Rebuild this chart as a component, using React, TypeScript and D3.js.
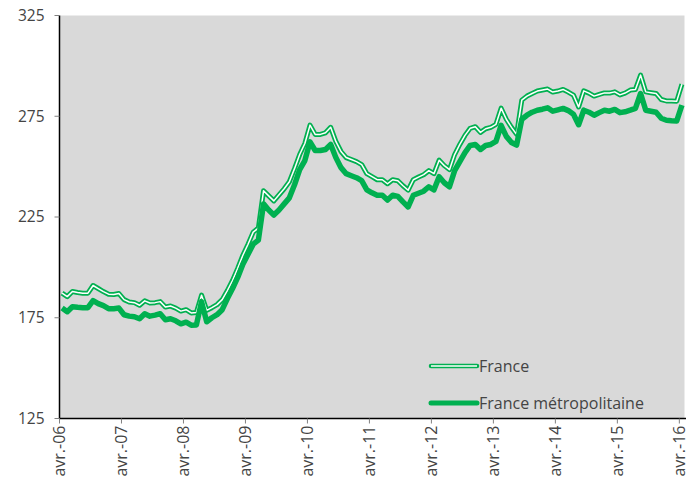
import React, { useEffect, useRef } from "react";
import * as d3 from "d3";

// libellés de l'axe des x (un tous les 12 mois)
const yearLabels = [
  "avr.-06", "avr.-07", "avr.-08", "avr.-09", "avr.-10", "avr.-11",
  "avr.-12", "avr.-13", "avr.-14", "avr.-15", "avr.-16",
];
const yTicks = [125, 175, 225, 275, 325];
const seriesNames = ["France", "France métropolitaine"];

// valeurs mensuelles, avril 2006 -> avril 2016
const france = [
  187.2, 185.5, 188, 187.5, 187.2, 187.2, 191, 189.5, 188, 186.7, 186.5, 187,
  184, 182.8, 182.5, 181.2, 183.4, 182.3, 182.5, 183, 180.3, 180.8, 179.8, 178.3,
  179, 177.4, 177.6, 186.2, 178.7, 180, 181.5, 184, 188.5, 193.5, 199.5, 206,
  211.5, 217.5, 219.5, 238, 235.5, 233, 236, 239, 242.5, 249, 256, 261.5,
  270.6, 266, 266, 266.8, 269.5, 262.5, 257.5, 254.5, 253.5, 252.5, 251, 246.5,
  245, 243.5, 243.5, 241.5, 243.5, 243, 240.5, 238.3, 243.5, 244.8, 246, 248,
  246.5, 253.2, 250.5, 248.5, 256, 261, 265.5, 269, 269.8, 267, 268.8, 269.5,
  271, 279, 273.5, 269.5, 266, 283, 285, 286.3, 287.5, 288, 288.5, 287,
  287.5, 288.3, 287, 285.5, 279.6, 287.6, 286.5, 285, 285.8, 286.6, 286.5, 287.1,
  285.6, 286.5, 288, 288.3, 295.4, 287.1, 286.7, 286.3, 283.3, 282.6, 282.6, 282.5,
  290.9,
];
const franceMetro = [
  179.8, 178, 180.5, 180.2, 180, 180, 183.5, 182, 181, 179.5, 179.5, 179.8,
  176.5, 175.8, 175.5, 174.5, 177, 175.8, 176.3, 177, 174, 174.5, 173.5, 172,
  172.8, 171.3, 171.4, 183, 173, 175, 176.5, 179, 184.5, 189.5, 195, 201.5,
  206.5, 211.5, 213.5, 231.5, 228.5, 226, 228.5, 231.5, 234.5, 241, 248.5, 253,
  262.3, 258, 258, 258.5, 261, 254.5, 249.5, 246.5, 245.5, 244.5, 243, 238.5,
  237, 235.8, 235.8, 233.4, 235.8, 235.2, 232.5, 230, 235.8, 236.8, 237.8, 240,
  238.5, 245, 242, 240, 248, 252.5, 257, 260.5, 261, 258.5, 260.5, 261,
  262.5, 270.5, 265, 262, 260.7, 273.5, 275.5, 277, 278, 278.5, 279.2, 277.5,
  278.2, 278.9, 277.8, 276, 270.8, 278, 277, 275.5, 276.8, 278, 277.5, 278.4,
  276.8, 277.2, 278, 278.9, 286.3, 278, 277.5, 277, 274, 273, 272.8, 272.7,
  280.5,
];

const App = () => {
  const svgRef = useRef<SVGSVGElement>(null);
  const width = 688;
  const height = 478;
  // bords de la zone de tracé
  const left = 59.5;
  const right = 684.5;
  const top = 15.5;
  const bottom = 418.5;
  const green = "#00b050";
  const textColor = "#444444";
  const font = "'Open Sans', 'Noto Sans', sans-serif";

  const drawChart = () => {
    const svg = d3.select(svgRef.current);
    svg.selectAll("*").remove();

    const x = d3.scaleLinear().domain([0, franceMetro.length]).range([left, right]);
    const y = d3.scaleLinear().domain([125, 325]).range([bottom, top]);

    // fond gris
    svg
      .append("rect")
      .attr("x", left)
      .attr("y", top)
      .attr("width", right - left)
      .attr("height", bottom - top)
      .attr("fill", "#d9d9d9");

    const line = d3
      .line<number>()
      .x((d, i) => x(i + 0.5))
      .y((d) => y(d));

    // France : trait double (vert + filet blanc)
    svg
      .append("path")
      .attr("d", line(france))
      .attr("fill", "none")
      .attr("stroke", green)
      .attr("stroke-width", 5)
      .attr("stroke-linejoin", "round");
    svg
      .append("path")
      .attr("d", line(france))
      .attr("fill", "none")
      .attr("stroke", "#ffffff")
      .attr("stroke-width", 1.5)
      .attr("stroke-linejoin", "round");

    // France métropolitaine : trait épais
    svg
      .append("path")
      .attr("d", line(franceMetro))
      .attr("fill", "none")
      .attr("stroke", green)
      .attr("stroke-width", 5.5)
      .attr("stroke-linejoin", "round");

    // axes
    svg
      .append("line")
      .attr("x1", left)
      .attr("x2", left)
      .attr("y1", top)
      .attr("y2", bottom)
      .attr("stroke", "#000")
      .attr("stroke-width", 1.5);
    svg
      .append("line")
      .attr("x1", left)
      .attr("x2", right + 1.5)
      .attr("y1", bottom)
      .attr("y2", bottom)
      .attr("stroke", "#000")
      .attr("stroke-width", 1.5);

    // graduations y
    const yg = svg.selectAll("g.ytick").data(yTicks).enter().append("g");
    yg.append("line")
      .attr("x1", left - 5)
      .attr("x2", left)
      .attr("y1", (d) => y(d))
      .attr("y2", (d) => y(d))
      .attr("stroke", "#808080");
    yg.append("text")
      .attr("x", left - 15)
      .attr("y", (d) => y(d))
      .attr("dy", "0.35em")
      .attr("text-anchor", "end")
      .attr("fill", textColor)
      .style("font-family", font)
      .style("font-size", "15.5px")
      .text((d) => d);

    // graduations x
    const xg = svg.selectAll("g.xtick").data(yearLabels).enter().append("g");
    xg.append("line")
      .attr("x1", (d, i) => x(i * 12))
      .attr("x2", (d, i) => x(i * 12))
      .attr("y1", bottom)
      .attr("y2", bottom + 5)
      .attr("stroke", "#808080");
    xg.append("text")
      .attr("transform", (d, i) => `translate(${x(i * 12)},${bottom + 7}) rotate(-90)`)
      .attr("dy", "0.35em")
      .attr("text-anchor", "end")
      .attr("fill", textColor)
      .style("font-family", font)
      .style("font-size", "16px")
      .text((d) => d);

    // légende
    const legendY = [366, 403];
    seriesNames.forEach((name, i) => {
      const ly = legendY[i];
      svg
        .append("line")
        .attr("x1", 431)
        .attr("x2", 477)
        .attr("y1", ly)
        .attr("y2", ly)
        .attr("stroke", green)
        .attr("stroke-width", i === 0 ? 4.5 : 5)
        .attr("stroke-linecap", "round");
      if (i === 0) {
        svg
          .append("line")
          .attr("x1", 431)
          .attr("x2", 477)
          .attr("y1", ly)
          .attr("y2", ly)
          .attr("stroke", "#ffffff")
          .attr("stroke-width", 1.5);
      }
      svg
        .append("text")
        .attr("x", 479)
        .attr("y", ly)
        .attr("dy", "0.35em")
        .attr("fill", textColor)
        .style("font-family", font)
        .style("font-size", "16px")
        .text(name);
    });
  };

  useEffect(() => {
    if (svgRef.current) drawChart();
  }, []);

  return (
    <svg
      ref={svgRef}
      width={width}
      height={height}
      style={{ position: "absolute", left: 0, top: 0, background: "#fff" }}
    />
  );
};

export default App;
